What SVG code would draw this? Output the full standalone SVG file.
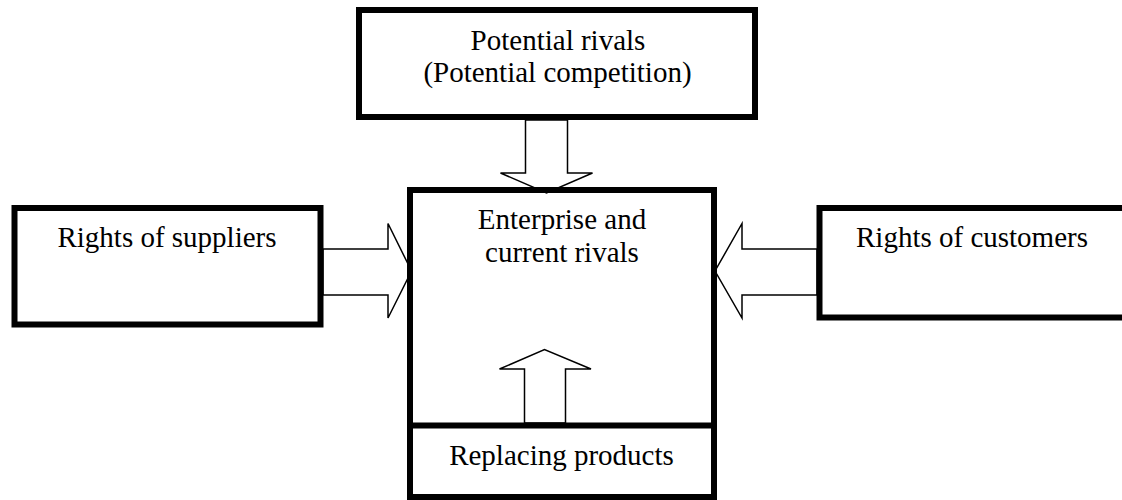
<svg xmlns="http://www.w3.org/2000/svg" width="1122" height="500" viewBox="0 0 1122 500">
<style>
.box{fill:none;stroke:#000;stroke-width:6}
.arrow{fill:#fff;stroke:#000;stroke-width:1.5;stroke-linejoin:miter}
.lbl{font-family:'Liberation Serif',serif;font-size:29px;fill:#000;text-anchor:middle}
</style>
<rect width="1122" height="500" fill="#fff"/>
<g id="connectors">
<polygon class="arrow" points="525.5,120 567.5,120 567.5,173 592.5,173 546.5,193 500.5,173 525.5,173"/>
<polygon class="arrow" points="524.5,423 565.5,423 565.5,369 591,369 544.5,349.5 499.5,369 524.5,369"/>
<polygon class="arrow" points="323,249 388,249 388,223.5 411.5,271 388,318 388,295 323,295"/>
<polygon class="arrow" points="817,249 742,249 742,223.5 715,271 742,318 742,295 817,295"/>
</g>
<g id="potential-rivals">
<rect class="box" x="359" y="10" width="396" height="107"/>
<text class="lbl" x="558" y="50">Potential rivals</text>
<text class="lbl" x="557.5" y="82">(Potential competition)</text>
</g>
<g id="enterprise">
<rect class="box" x="410" y="190" width="304" height="307"/>
<text class="lbl" x="562" y="229">Enterprise and</text>
<text class="lbl" x="562" y="262">current rivals</text>
</g>
<g id="replacing-products">
<rect class="box" x="410" y="425.5" width="304" height="71.5"/>
<text class="lbl" x="561.5" y="465">Replacing products</text>
</g>
<g id="suppliers">
<rect class="box" x="14.5" y="208" width="306" height="116.5"/>
<text class="lbl" x="167" y="247">Rights of suppliers</text>
</g>
<g id="customers">
<rect class="box" x="819.5" y="208" width="310" height="109.5"/>
<text class="lbl" x="972" y="247">Rights of customers</text>
</g>
</svg>
